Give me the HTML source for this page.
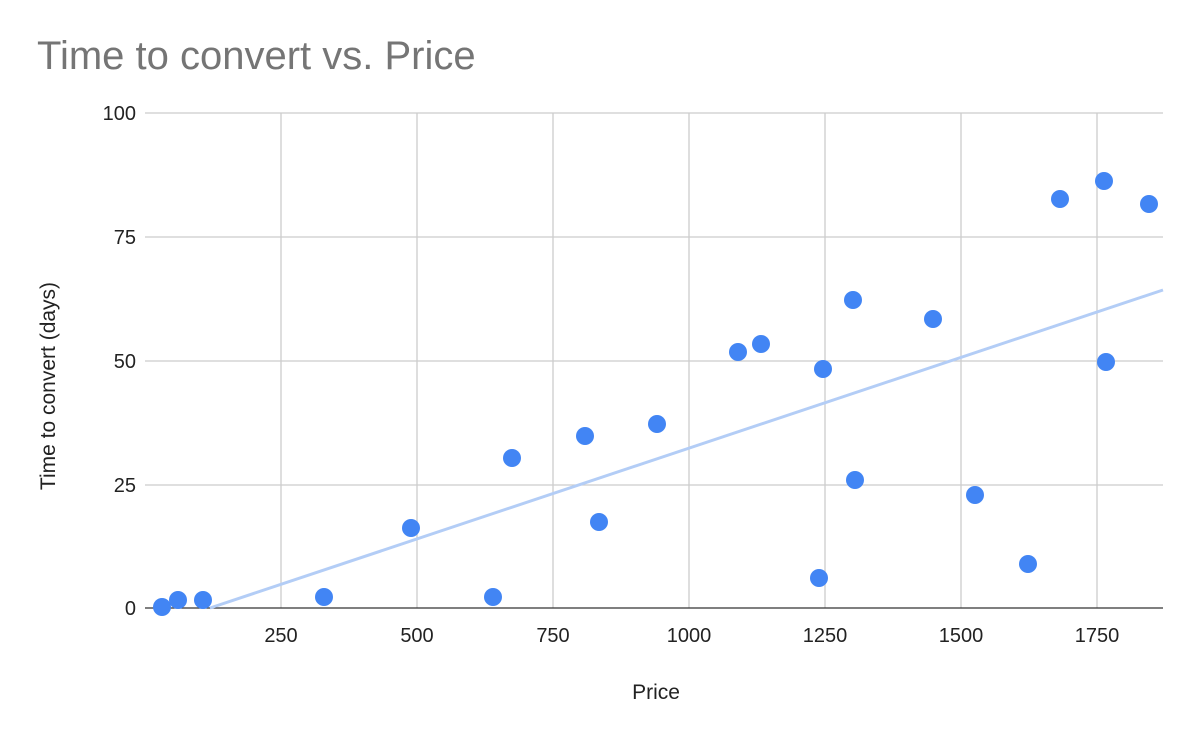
<!DOCTYPE html>
<html><head><style>
body{margin:0;background:#fff;}
svg{display:block;font-family:"Liberation Sans",Arial,sans-serif;}
</style></head><body>
<svg width="1200" height="742" xmlns="http://www.w3.org/2000/svg">
<rect width="1200" height="742" fill="#fff"/>
<text x="37" y="69" font-size="40" fill="#757575">Time to convert vs. Price</text>
<g stroke="#cccccc" stroke-width="1.3">
<line x1="145" y1="113" x2="1163" y2="113"/>
<line x1="145" y1="237" x2="1163" y2="237"/>
<line x1="145" y1="361" x2="1163" y2="361"/>
<line x1="145" y1="485" x2="1163" y2="485"/>
<line x1="281" y1="113" x2="281" y2="608"/>
<line x1="417" y1="113" x2="417" y2="608"/>
<line x1="553" y1="113" x2="553" y2="608"/>
<line x1="689" y1="113" x2="689" y2="608"/>
<line x1="825" y1="113" x2="825" y2="608"/>
<line x1="961" y1="113" x2="961" y2="608"/>
<line x1="1097" y1="113" x2="1097" y2="608"/>
</g>
<line x1="145" y1="608" x2="1163" y2="608" stroke="#333" stroke-width="1.3"/>
<g font-size="20" fill="#222" text-anchor="end">
<text x="136" y="120">100</text>
<text x="136" y="244">75</text>
<text x="136" y="368">50</text>
<text x="136" y="492">25</text>
<text x="136" y="615">0</text>
</g>
<g font-size="20" fill="#222" text-anchor="middle">
<text x="281" y="642">250</text>
<text x="417" y="642">500</text>
<text x="553" y="642">750</text>
<text x="689" y="642">1000</text>
<text x="825" y="642">1250</text>
<text x="961" y="642">1500</text>
<text x="1097" y="642">1750</text>
<text x="656" y="699" font-size="21">Price</text>
</g>
<text transform="translate(55,386) rotate(-90)" font-size="21" fill="#222" text-anchor="middle">Time to convert (days)</text>
<line x1="210" y1="608" x2="1163" y2="290" stroke="#b3cdf6" stroke-width="3"/>
<g fill="#4285f4">
<circle cx="162" cy="607" r="9"/><circle cx="178" cy="600" r="9"/><circle cx="203" cy="600" r="9"/>
<circle cx="324" cy="597" r="9"/><circle cx="411" cy="528" r="9"/><circle cx="493" cy="597" r="9"/>
<circle cx="512" cy="458" r="9"/><circle cx="585" cy="436" r="9"/><circle cx="599" cy="522" r="9"/>
<circle cx="657" cy="424" r="9"/><circle cx="738" cy="352" r="9"/><circle cx="761" cy="344" r="9"/>
<circle cx="823" cy="369" r="9"/><circle cx="819" cy="578" r="9"/><circle cx="853" cy="300" r="9"/>
<circle cx="855" cy="480" r="9"/><circle cx="933" cy="319" r="9"/><circle cx="975" cy="495" r="9"/>
<circle cx="1028" cy="564" r="9"/><circle cx="1060" cy="199" r="9"/><circle cx="1104" cy="181" r="9"/>
<circle cx="1106" cy="362" r="9"/><circle cx="1149" cy="204" r="9"/>
</g>
</svg>
</body></html>
